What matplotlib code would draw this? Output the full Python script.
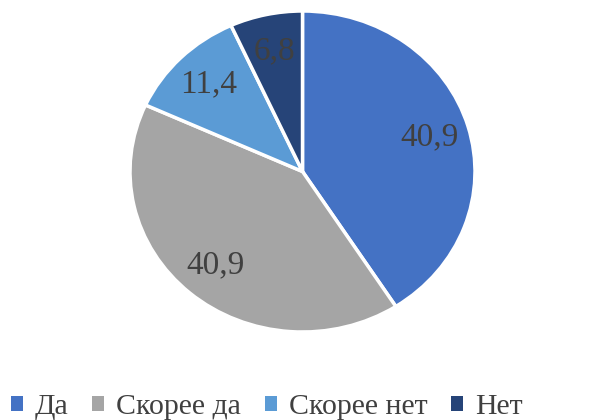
import matplotlib
matplotlib.use('Agg')
from matplotlib import pyplot as pl, rcParams

categories = ['Да', 'Скорее да', 'Скорее нет', 'Нет']
shares = [40.9, 40.9, 11.4, 6.8]
colors = ['#4472C4', '#A5A5A5', '#5B9BD5', '#264478']

rcParams['font.family'] = ['Liberation Serif', 'DejaVu Serif']

fig = pl.figure(figsize=(6.06, 4.2), dpi=100)
# pie is slightly wider than tall, so the axes box is not square
ax = fig.add_axes([130 / 606, 88 / 420, 345 / 606, 321 / 420])
wedges, texts, autotexts = ax.pie(
    shares, colors=colors, startangle=90, counterclock=False,
    autopct=lambda p: '{:.1f}'.format(p).replace('.', ','),
    pctdistance=0.77,
    wedgeprops=dict(edgecolor='white', linewidth=2.5),
    textprops=dict(color='#404040', fontsize=24))
ax.set_aspect('auto')
ax.set_xlim(-1, 1)
ax.set_ylim(-1, 1)

leg = fig.legend(wedges, categories, loc='center left', bbox_to_anchor=(0.018, 13 / 420),
                 ncol=4, frameon=False, fontsize=21.5, handlelength=0.4, handleheight=0.4,
                 handletextpad=0.4, columnspacing=0.8, borderpad=0, borderaxespad=0,
                 labelcolor='#404040')
for h in leg.legend_handles:
    h.set_edgecolor('none')

fig.savefig('out.png', dpi=100)
